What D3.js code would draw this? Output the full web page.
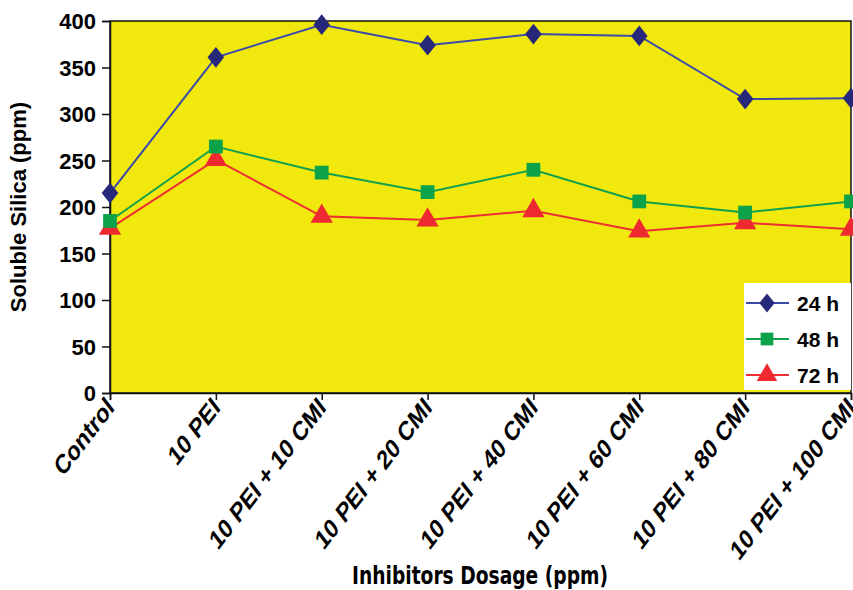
<!DOCTYPE html>
<html>
<head>
<meta charset="utf-8">
<script src="https://cdn.jsdelivr.net/npm/d3@7"></script>
<style>
  body { margin: 0; background: #fff; overflow: hidden; }
  text { font-family: "Liberation Sans", Arial, sans-serif; font-weight: bold; }
</style>
</head>
<body>
<div id="chart"></div>
<script>
var categories = ["Control", "10 PEI", "10 PEI + 10 CMI", "10 PEI + 20 CMI", "10 PEI + 40 CMI",
                  "10 PEI + 60 CMI", "10 PEI + 80 CMI", "10 PEI + 100 CMI"];
var h24 = [215, 361, 396, 374, 386, 384, 316, 317];
var h48 = [185, 265, 237, 216, 240, 206, 194, 206];
var h72 = [177, 251, 190, 186, 196, 174, 183, 176];
var seriesNames = ["24 h", "48 h", "72 h"];
var yTicks = [0, 50, 100, 150, 200, 250, 300, 350, 400];

var width = 853, height = 590;
var margin = {top: 21, left: 110, right: 2, bottom: 197};
var w = width - margin.left - margin.right;
var h = height - margin.top - margin.bottom;

var svg = d3.select("#chart").append("svg")
    .attr("width", width)
    .attr("height", height);

var g = svg.append("g")
    .attr("transform", "translate(" + margin.left + "," + margin.top + ")");

var x = d3.scalePoint().domain(categories).range([0, w]).padding(0);
var y = d3.scaleLinear().domain([0, 400]).range([h, 0]);

// a diamond a bit taller than wide, like the original markers
var tallDiamond = {
    draw: function(context, size) {
        var hh = Math.sqrt(size) * 0.62, hw = hh * 0.8;
        context.moveTo(0, -hh);
        context.lineTo(hw, 0);
        context.lineTo(0, hh);
        context.lineTo(-hw, 0);
        context.closePath();
    }
};

// plot background
g.append("rect")
    .attr("x", 0).attr("y", 0)
    .attr("width", w).attr("height", h)
    .style("fill", "#F1E90E")
    .style("stroke", "#111")
    .style("stroke-width", 1.5);

// y axis
var yAxis = g.append("g")
    .call(d3.axisLeft(y).tickValues(yTicks).tickSize(8).tickPadding(6));
yAxis.select(".domain").style("stroke", "#111").style("stroke-width", 1.5);
yAxis.selectAll(".tick line").style("stroke", "#111").style("stroke-width", 1.5);
yAxis.selectAll("text").style("font-size", "22px").style("fill", "#000").attr("dy", "0.36em");

// x axis
var xAxis = g.append("g")
    .attr("transform", "translate(0," + h + ")")
    .call(d3.axisBottom(x).tickSize(7));
xAxis.select(".domain").style("stroke", "#111").style("stroke-width", 1.5);
xAxis.selectAll(".tick line").style("stroke", "#111").style("stroke-width", 1.5);
xAxis.selectAll("text")
    .style("font-size", "21px")
    .style("fill", "#000")
    .attr("text-anchor", "end")
    .attr("dy", 0)
    .attr("y", 0)
    .attr("transform", "translate(5,16) scale(1,1.3) rotate(-45)");

// axis titles
svg.append("text")
    .attr("transform", "translate(26," + (margin.top + h / 2) + ") rotate(-90)")
    .attr("text-anchor", "middle")
    .style("font-size", "22px")
    .text("Soluble Silica (ppm)");

svg.append("text")
    .attr("x", 352)
    .attr("y", 584)
    .attr("textLength", 256)
    .attr("lengthAdjust", "spacingAndGlyphs")
    .style("font-size", "24px")
    .style("font-family", "'Liberation Sans Narrow', 'DejaVu Sans Condensed', sans-serif")
    .text("Inhibitors Dosage (ppm)");

var series = [
    {name: seriesNames[0], values: h24, line: "#3C4BA8", fill: "#27287A", shape: tallDiamond, size: 280},
    {name: seriesNames[1], values: h48, line: "#12A04E", fill: "#0BA24A", shape: d3.symbolSquare, size: 190},
    {name: seriesNames[2], values: h72, line: "#EE2E33", fill: "#EE2A30", shape: d3.symbolTriangle, size: 215}
];

var line = d3.line()
    .x(function(d, i) { return x(categories[i]); })
    .y(function(d) { return y(d); });

series.slice().reverse().forEach(function(s) {
    g.append("path")
        .datum(s.values)
        .attr("d", line)
        .style("fill", "none")
        .style("stroke", s.line)
        .style("stroke-width", 2);

    g.selectAll(null)
        .data(s.values)
        .enter()
        .append("path")
        .attr("transform", function(d, i) { return "translate(" + x(categories[i]) + "," + y(d) + ")"; })
        .attr("d", d3.symbol().type(s.shape).size(s.size))
        .style("fill", s.fill);
});

// legend
var legend = svg.append("g").attr("transform", "translate(744,283)");
legend.append("rect")
    .attr("width", 107).attr("height", 107)
    .style("fill", "#fff");

series.forEach(function(s, i) {
    var ly = 20 + i * 36;
    legend.append("line")
        .attr("x1", 2).attr("x2", 45)
        .attr("y1", ly).attr("y2", ly)
        .style("stroke", s.line).style("stroke-width", 2);
    legend.append("path")
        .attr("transform", "translate(23," + ly + ")")
        .attr("d", d3.symbol().type(s.shape).size(s.size * 0.85))
        .style("fill", s.fill);
    legend.append("text")
        .attr("x", 53).attr("y", ly + 8)
        .style("font-size", "21px")
        .text(s.name);
});
</script>
</body>
</html>
